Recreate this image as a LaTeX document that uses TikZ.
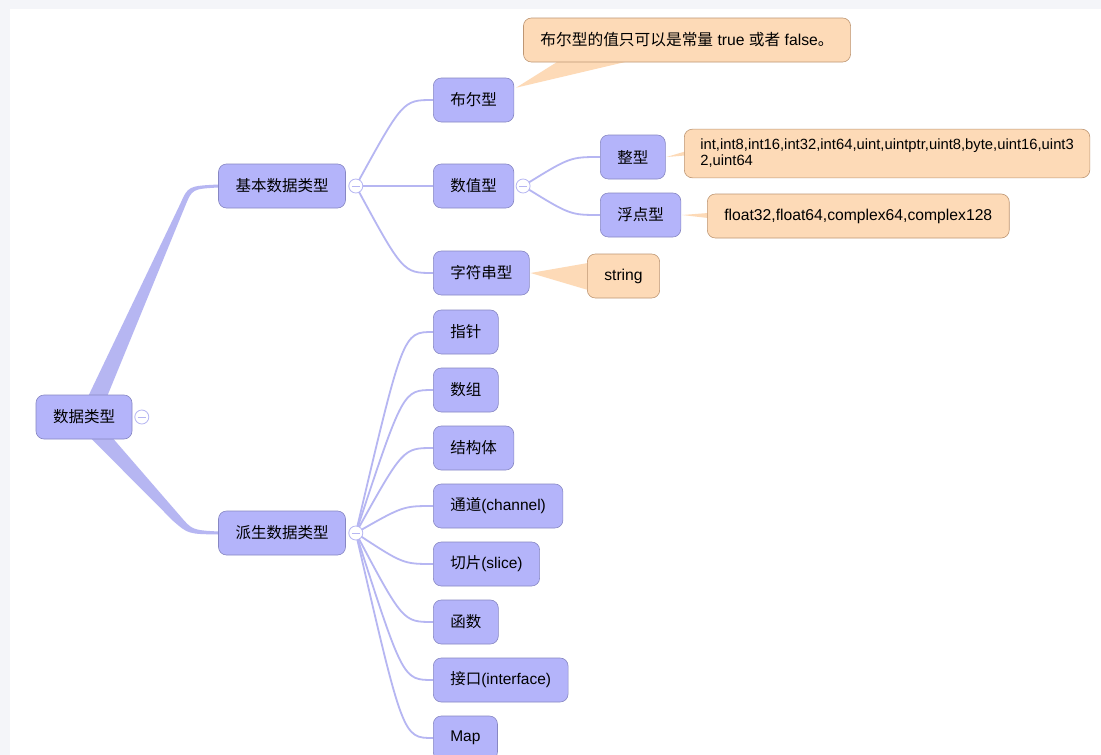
\documentclass[tikz,border=0pt]{standalone}
\usepackage{fontspec}
\setmainfont{Liberation Sans}
\newfontfamily\cjk{Noto Sans CJK SC}
\usetikzlibrary{positioning,calc}
\pgfdeclarelayer{bg}
\pgfsetlayers{bg,main}
\definecolor{pagegray}{RGB}{244,245,249}
\definecolor{topicfill}{RGB}{180,180,250}
\definecolor{topicline}{RGB}{135,135,195}
\definecolor{branchline}{RGB}{182,182,242}
\definecolor{memofill}{RGB}{253,218,183}
\definecolor{memoline}{RGB}{190,150,115}
\tikzset{
    topic/.style={draw=topicline, fill=topicfill, rounded corners=8pt, minimum height=44pt, inner xsep=17pt, line width=0.6pt, font=\fontsize{15.5}{18}\selectfont},
    memo/.style={draw=memoline, fill=memofill, rounded corners=8pt, minimum height=44pt, inner xsep=17pt, line width=0.6pt, font=\fontsize{15.7}{18}\selectfont},
    branch/.style={draw=branchline, line width=1.8pt},
    wedge/.style={fill=memofill, draw=none},
    fold/.style={circle, draw=branchline, fill=white, minimum size=14pt, inner sep=0pt, line width=0.8pt,
        path picture={\draw[branchline, line width=0.8pt] ([xshift=3pt]path picture bounding box.west) -- ([xshift=-3pt]path picture bounding box.east);}}
}
\begin{document}
\begin{tikzpicture}[x=1pt, y=-1pt]
    \useasboundingbox (0,0) rectangle (1101,755);

    % topics
    \node[topic] (root) at (84,417) {{\cjk 数据类型}};
    \node[topic] (basic) at (282,186) {{\cjk 基本数据类型}};
    \node[topic] (derived) at (282,533) {{\cjk 派生数据类型}};
    \node[fold] (rootfold) at ([xshift=9.5pt]root.east) {};
    \node[fold] (basicfold) at ([xshift=10pt]basic.east) {};
    \node[fold] (derivedfold) at ([xshift=10pt]derived.east) {};

    \node[topic, anchor=west] (bool) at (433,100) {{\cjk 布尔型}};
    \node[topic, anchor=west] (num) at (433,186) {{\cjk 数值型}};
    \node[topic, anchor=west] (str) at (433,273) {{\cjk 字符串型}};
    \node[fold] (numfold) at ([xshift=9pt]num.east) {};
    \node[topic, anchor=west] (int) at (600,157) {{\cjk 整型}};
    \node[topic, anchor=west] (float) at (600,215) {{\cjk 浮点型}};

    \node[topic, anchor=west] (ptr) at (433,332) {{\cjk 指针}};
    \node[topic, below right=13.4pt and 0pt of ptr.south west] (arr) {{\cjk 数组}};
    \node[topic, below right=13.4pt and 0pt of arr.south west] (struct) {{\cjk 结构体}};
    \node[topic, below right=13.4pt and 0pt of struct.south west] (chan) {{\cjk 通道}(channel)};
    \node[topic, below right=13.4pt and 0pt of chan.south west] (slice) {{\cjk 切片}(slice)};
    \node[topic, below right=13.4pt and 0pt of slice.south west] (func) {{\cjk 函数}};
    \node[topic, below right=13.4pt and 0pt of func.south west] (iface) {{\cjk 接口}(interface)};
    \node[topic, below right=13.4pt and 0pt of iface.south west] (map) {Map};

    % notes
    \node[memo] (boolmemo) at (687,40) {{\cjk 布尔型的值只可以是常量} true {\cjk 或者} false{\cjk 。}};
    \node[memo, anchor=west, align=left, inner xsep=16pt, inner ysep=10pt, font=\fontsize{14.8}{16}\selectfont] (intmemo) at (684,153.5) {int,int8,int16,int32,int64,uint,uintptr,uint8,byte,uint16,uint3\\2,uint64};
    \node[memo, anchor=west] (floatmemo) at (707,216) {float32,float64,complex64,complex128};
    \node[memo, anchor=west] (strmemo) at (587,276) {string};

    \begin{pgfonlayer}{bg}
        \fill[pagegray] (0,0) rectangle (1101,755);
        \fill[white] (10,9) rectangle (1101,755);
        % main branches
        \fill[branchline] ($(root.north)+(4,2)$) -- ($(basic.west)+(-38,18)$)
            .. controls ($(basic.west)+(-30,0)$) .. ($(basic.west)+(0,-1.5)$)
            -- ($(basic.west)+(0,1.5)$)
            .. controls ($(basic.west)+(-26,3)$) .. ($(basic.west)+(-33,20)$)
            -- ($(root.north)+(23,2)$) -- cycle;
        \fill[branchline] ($(root.south)+(6,-2)$) -- ($(derived.west)+(-45,-12)$)
            .. controls ($(derived.west)+(-30,1)$) .. ($(derived.west)+(0,1.5)$)
            -- ($(derived.west)+(0,-1.5)$)
            .. controls ($(derived.west)+(-26,-3)$) .. ($(derived.west)+(-38,-17)$)
            -- ($(root.south)+(28,-2)$) -- cycle;

        \foreach \kid in {bool,num,str}
            \draw[branch] (basicfold.center) .. controls ($(\kid.west)+(-30,0)$) .. (\kid.west);
        \foreach \kid in {int,float}
            \draw[branch] (numfold.center) .. controls ($(\kid.west)+(-30,0)$) .. (\kid.west);
        \foreach \kid in {ptr,arr,struct,chan,slice,func,iface,map}
            \draw[branch] (derivedfold.center) .. controls ($(\kid.west)+(-30,0)$) .. (\kid.west);

        % note callouts
        \fill[wedge] ($(bool.north east)+(2,10)$) -- ($(boolmemo.south west)+(35,-1)$) -- ($(boolmemo.south west)+(105,-1)$) -- cycle;
        \fill[wedge] ($(int.east)+(1,0)$) -- ($(intmemo.west)+(1,-2)$) -- ($(intmemo.west)+(1,2)$) -- cycle;
        \fill[wedge] ($(float.east)+(1,0)$) -- ($(floatmemo.west)+(1,-3)$) -- ($(floatmemo.west)+(1,2)$) -- cycle;
        \fill[wedge] ($(str.east)+(1,0)$) -- ($(strmemo.west)+(1,-13)$) -- ($(strmemo.west)+(1,14)$) -- cycle;
    \end{pgfonlayer}
\end{tikzpicture}
\end{document}
